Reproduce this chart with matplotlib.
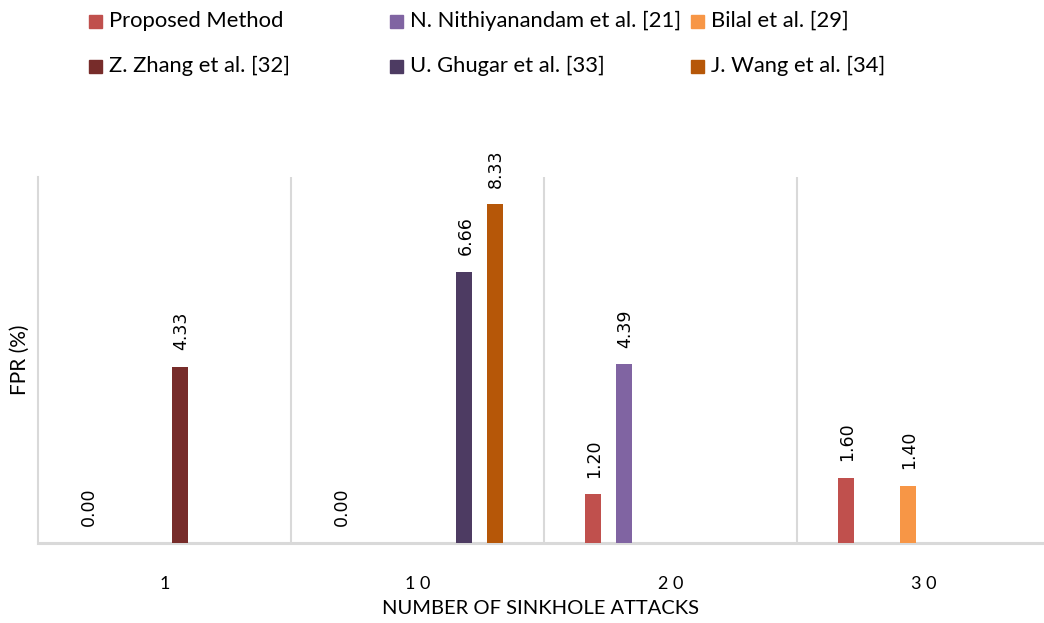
import numpy as np
import matplotlib
matplotlib.use("Agg")
import matplotlib.pyplot as plt
from matplotlib.patches import Rectangle

# FPR (%) per number of sinkhole attacks; NaN = no result reported
categories = ["1", "10", "20", "30"]
series = [
    "Proposed Method",
    "N. Nithiyanandam et al. [21]",
    "Bilal et al. [29]",
    "Z. Zhang et al. [32]",
    "U. Ghugar et al. [33]",
    "J. Wang et al. [34]",
]
proposed = [0.00, 0.00, 1.20, 1.60]
nithiyanandam = [np.nan, np.nan, 4.39, np.nan]
bilal = [np.nan, np.nan, np.nan, 1.40]
zhang = [4.33, np.nan, np.nan, np.nan]
ghugar = [np.nan, 6.66, np.nan, np.nan]
wang = [np.nan, 8.33, np.nan, np.nan]
values = [proposed, nithiyanandam, bilal, zhang, ghugar, wang]
colors = ["#C0504D", "#8064A2", "#F79646", "#772C2A", "#4D3B62", "#B65708"]

W, H = 1044, 623
fig = plt.figure(figsize=(W / 100, H / 100), dpi=100)
ax = fig.add_axes([38 / W, (H - 543) / H, 1012 / W, 366 / H])

x = np.arange(len(categories))
step, bw = 0.1225, 0.067
for i, (vals, c) in enumerate(zip(values, colors)):
    pos = x + (i - 2.5) * step
    for xp, v in zip(pos, vals):
        if np.isnan(v):
            continue
        ax.bar(xp, v, width=bw, color=c, zorder=3)
        ax.annotate(f"{v:.2f}", (xp, v), textcoords="offset points", xytext=(1, 12),
                    rotation=90, ha="center", va="bottom", fontsize=12.5,
                    family="DejaVu Sans", color="#000000")

ax.set_xlim(-0.5, len(categories) - 0.5)
ax.set_ylim(0, 9)
ax.set_yticks([])
ax.set_xticks(x)
ax.set_xticklabels([" ".join(c) for c in categories], family="Lato", fontsize=13)
ax.tick_params(axis="x", length=0, pad=24)
for b in np.arange(0.5, len(categories) - 0.5):
    ax.axvline(b, color="#D9D9D9", lw=1.5, zorder=1)
for s in ["top", "right"]:
    ax.spines[s].set_visible(False)
ax.spines["left"].set_color("#D9D9D9")
ax.spines["left"].set_linewidth(1.5)
ax.spines["bottom"].set_color("#D9D9D9")
ax.spines["bottom"].set_linewidth(2.2)

fig.text(20 / W, 1 - 360 / H, "FPR (%)", rotation=90, ha="center", va="center",
         family="Lato", fontsize=15)
fig.text(541 / W, 1 - 609 / H, "NUMBER OF SINKHOLE ATTACKS", ha="center", va="center",
         family="Lato", fontsize=14.5)

# legend laid out in fixed-width columns, two rows of three
leg_x = [89, 390, 691]
leg_y = [21, 66]
for k, (name, c) in enumerate(zip(series, colors)):
    cx, cy = leg_x[k % 3], leg_y[k // 3]
    fig.patches.append(Rectangle((cx / W, 1 - (cy + 7) / H), 13 / W, 13 / H,
                                 transform=fig.transFigure, color=c))
    fig.text((cx + 20) / W, 1 - cy / H, name, ha="left", va="center",
             family="Lato", fontsize=15.8)

fig.savefig("out.png", dpi=100)
